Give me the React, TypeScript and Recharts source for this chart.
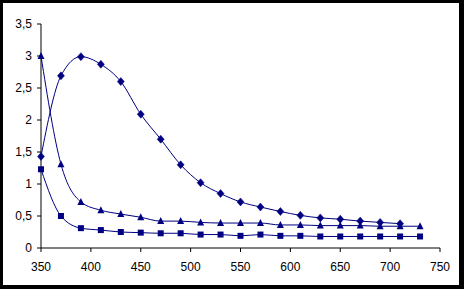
import React from "react";
import { LineChart, Line, XAxis, YAxis } from "recharts";

const wavelengths = [350, 370, 390, 410, 430, 450, 470, 490, 510, 530, 550, 570, 590, 610, 630, 650, 670, 690, 710, 730];
const diamondSeries = [1.43, 2.69, 2.99, 2.87, 2.6, 2.09, 1.7, 1.3, 1.02, 0.85, 0.72, 0.64, 0.57, 0.51, 0.47, 0.45, 0.42, 0.4, 0.38, null];
const squareSeries = [1.23, 0.5, 0.31, 0.28, 0.25, 0.24, 0.23, 0.23, 0.21, 0.21, 0.19, 0.21, 0.19, 0.19, 0.18, 0.18, 0.18, 0.18, 0.18, 0.18];
const triangleSeries = [3.0, 1.31, 0.72, 0.59, 0.53, 0.48, 0.42, 0.42, 0.4, 0.39, 0.39, 0.39, 0.36, 0.36, 0.35, 0.35, 0.35, 0.34, 0.34, 0.34];
const xTicks = [350, 400, 450, 500, 550, 600, 650, 700, 750];
const yTicks = [0, 0.5, 1, 1.5, 2, 2.5, 3, 3.5];

const data = wavelengths.map((w, i) => ({
  w,
  d: diamondSeries[i],
  s: squareSeries[i],
  t: triangleSeries[i],
}));

const NAVY = "#000080";

const DiamondDot = (p: any) => {
  const { cx, cy } = p;
  if (cx == null || cy == null || p.value == null) return <g key={p.key} />;
  return <path key={p.key} d={`M${cx},${cy - 4}L${cx + 3.5},${cy}L${cx},${cy + 4}L${cx - 3.5},${cy}Z`} fill={NAVY} stroke={NAVY} strokeWidth={0.5} />;
};
const SquareDot = (p: any) => {
  const { cx, cy } = p;
  if (cx == null || cy == null || p.value == null) return <g key={p.key} />;
  return <rect key={p.key} x={cx - 3} y={cy - 3} width={6} height={6} fill={NAVY} />;
};
const TriangleDot = (p: any) => {
  const { cx, cy } = p;
  if (cx == null || cy == null || p.value == null) return <g key={p.key} />;
  return <path key={p.key} d={`M${cx},${cy - 4}L${cx + 3.5},${cy + 3}L${cx - 3.5},${cy + 3}Z`} fill={NAVY} />;
};

const tickStyle = { fontSize: 12, fill: "#000", fontFamily: "'Liberation Sans', Arial, sans-serif" };

export default function App() {
  return (
    <div style={{ position: "absolute", left: 0, top: 0, width: 464, height: 289, background: "#000" }}>
      <div style={{ position: "absolute", left: 3, top: 3, width: 456, height: 282, background: "#fff" }} />
      <div style={{ position: "absolute", left: 0, top: 0 }}>
        <LineChart width={464} height={289} data={data} margin={{ top: 24, right: 24, bottom: 0, left: 11 }}>
          <XAxis
            dataKey="w"
            type="number"
            domain={[350, 750]}
            ticks={xTicks}
            height={41}
            tickSize={4}
            tickMargin={10}
            stroke="#000"
            tick={tickStyle}
            interval={0}
          />
          <YAxis
            type="number"
            domain={[0, 3.5]}
            ticks={yTicks}
            width={30}
            tickSize={4}
            tickMargin={5}
            stroke="#000"
            tick={tickStyle}
            interval={0}
            tickFormatter={(v: number) => String(v).replace(".", ",")}
          />
          <Line dataKey="d" type="monotone" stroke={NAVY} strokeWidth={1} dot={DiamondDot} isAnimationActive={false} connectNulls />
          <Line dataKey="t" type="monotone" stroke={NAVY} strokeWidth={1} dot={TriangleDot} isAnimationActive={false} />
          <Line dataKey="s" type="monotone" stroke={NAVY} strokeWidth={1} dot={SquareDot} isAnimationActive={false} />
        </LineChart>
      </div>
    </div>
  );
}
